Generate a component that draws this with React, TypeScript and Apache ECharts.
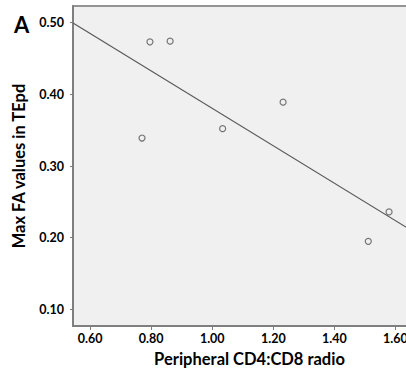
import React, { useEffect, useRef } from "react";
import * as echarts from "echarts";

const ratios = [0.796, 0.862, 1.232, 1.034, 0.77, 1.579, 1.511];
const faValues = [0.473, 0.474, 0.389, 0.352, 0.339, 0.236, 0.195];
const xTicks = [0.6, 0.8, 1.0, 1.2, 1.4, 1.6];
const yTicks = [0.1, 0.2, 0.3, 0.4, 0.5];
const xTitle = "Peripheral CD4:CD8 radio";
const yTitle = "Max FA values in TEpd";
const panelLabel = "A";

const X_MIN = 0.544;
const X_MAX = 1.7;
const Y_MIN = 0.077;
const Y_MAX = 0.523;

function fit(xs: number[], ys: number[]) {
  const n = xs.length;
  const mx = xs.reduce((a, b) => a + b, 0) / n;
  const my = ys.reduce((a, b) => a + b, 0) / n;
  let sxy = 0;
  let sxx = 0;
  for (let i = 0; i < n; i++) {
    sxy += (xs[i] - mx) * (ys[i] - my);
    sxx += (xs[i] - mx) * (xs[i] - mx);
  }
  const slope = sxy / sxx;
  return { slope, intercept: my - slope * mx };
}

export default function App() {
  const ref = useRef<HTMLDivElement>(null);
  useEffect(() => {
    if (!ref.current) return;
    const chart = echarts.init(ref.current, null, { renderer: "svg" });
    const { slope, intercept } = fit(ratios, faValues);
    const font = "Lato";
    chart.setOption({
      animation: false,
      backgroundColor: "#ffffff",
      textStyle: { fontFamily: font },
      grid: {
        left: 73,
        top: 6,
        right: 34,
        bottom: 41,
        show: true,
        backgroundColor: "#f0f0f0",
        borderColor: "#939393",
        borderWidth: 2,
      },
      graphic: [
        {
          type: "text",
          left: 14,
          top: 13,
          style: {
            text: panelLabel,
            font: "bold 22px Lato",
            fill: "#000",
          },
        },
      ],
      xAxis: {
        type: "value",
        min: X_MIN,
        max: X_MAX,
        name: xTitle,
        nameLocation: "middle",
        nameGap: 24,
        nameTextStyle: { fontFamily: font, fontWeight: "bold", fontSize: 16.5, color: "#000" },
        splitLine: { show: false },
        axisLine: { show: true, lineStyle: { color: "#7f7f7f", width: 2 } },
        axisTick: { show: true, length: 4, customValues: xTicks, lineStyle: { color: "#7f7f7f", width: 1 } },
        axisLabel: {
          customValues: xTicks,
          margin: 6,
          fontFamily: font,
          fontWeight: "bold",
          fontSize: 12.5,
          color: "#000",
          formatter: (v: number) => v.toFixed(2),
        },
      },
      yAxis: {
        type: "value",
        min: Y_MIN,
        max: Y_MAX,
        name: yTitle,
        nameLocation: "middle",
        nameGap: 46,
        nameTextStyle: { fontFamily: font, fontWeight: "bold", fontSize: 16.5, color: "#000" },
        splitLine: { show: false },
        axisLine: { show: true, lineStyle: { color: "#7f7f7f", width: 2 } },
        axisTick: { show: true, length: 3, customValues: yTicks, lineStyle: { color: "#7f7f7f", width: 1 } },
        axisLabel: {
          customValues: yTicks,
          margin: 9,
          fontFamily: font,
          fontWeight: "bold",
          fontSize: 12.5,
          color: "#000",
          formatter: (v: number) => v.toFixed(2),
        },
      },
      series: [
        {
          type: "line",
          data: [
            [X_MIN, intercept + slope * X_MIN],
            [X_MAX, intercept + slope * X_MAX],
          ],
          showSymbol: false,
          symbol: "none",
          lineStyle: { color: "#595959", width: 1.2 },
          silent: true,
        },
        {
          type: "scatter",
          data: ratios.map((x, i) => [x, faValues[i]]),
          symbol: "circle",
          symbolSize: 6,
          itemStyle: { color: "#f0f0f0", borderColor: "#555555", borderWidth: 1.2 },
        },
      ],
    });
    return () => chart.dispose();
  }, []);
  return (
    <div
      style={{
        position: "fixed",
        left: 0,
        top: 0,
        width: 406,
        height: 372,
        overflow: "hidden",
        background: "#fff",
      }}
    >
      <div ref={ref} style={{ width: 460, height: 372 }} />
    </div>
  );
}
